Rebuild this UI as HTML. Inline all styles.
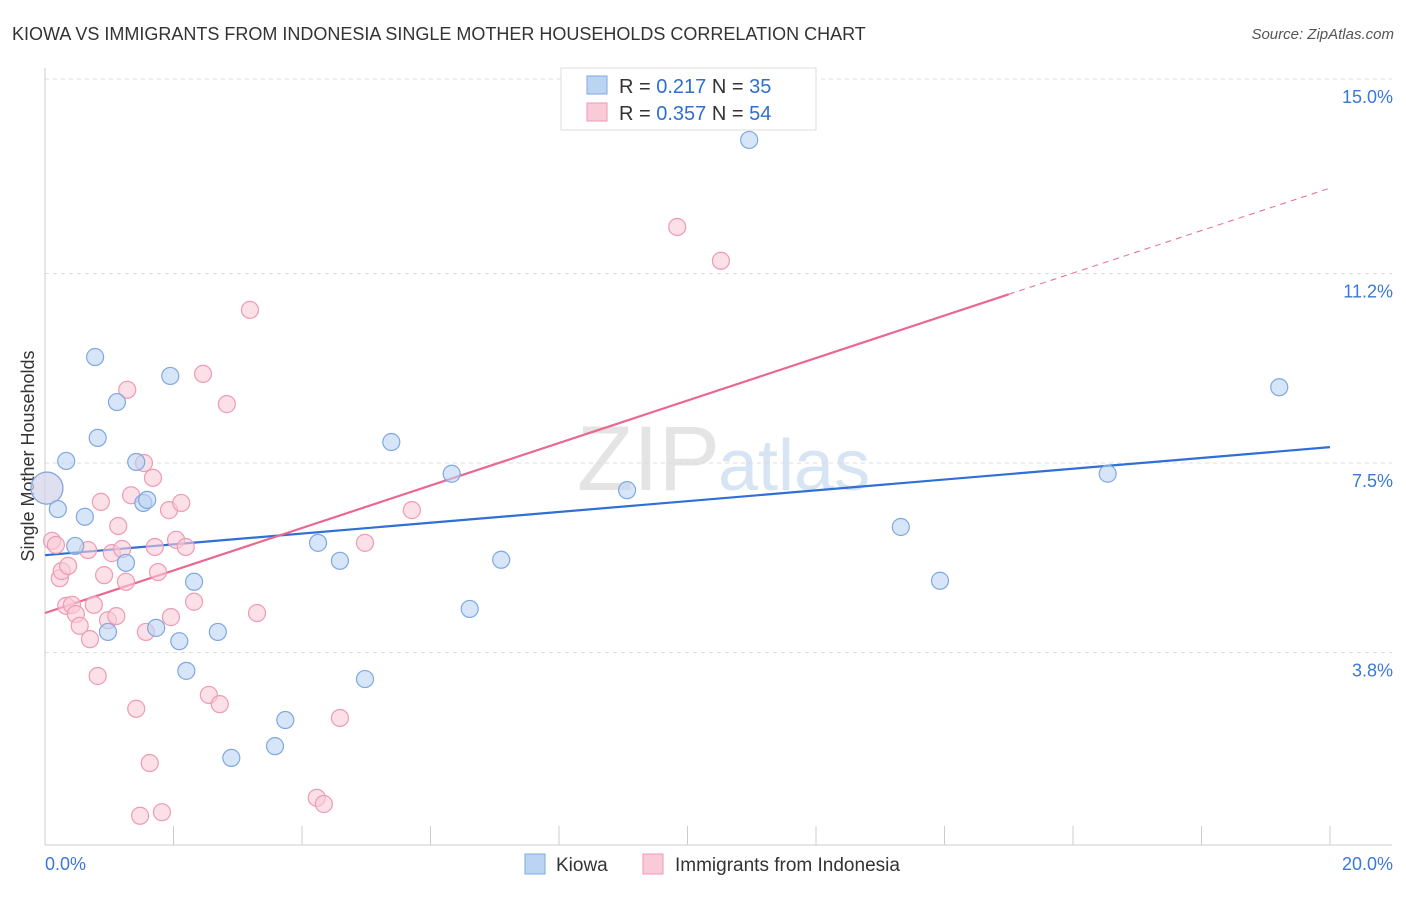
<!DOCTYPE html>
<html><head><meta charset="utf-8">
<style>
body{margin:0;background:#fff;font-family:"Liberation Sans",sans-serif;}
svg text{font-family:"Liberation Sans",sans-serif;}
</style></head><body>
<svg id="chart" width="1406" height="892" xmlns="http://www.w3.org/2000/svg">
<text x="12" y="40" font-size="18" fill="#333">KIOWA VS IMMIGRANTS FROM INDONESIA SINGLE MOTHER HOUSEHOLDS CORRELATION CHART</text>
<text x="1394" y="39" font-size="15" fill="#555" text-anchor="end" font-style="italic">Source: ZipAtlas.com</text>
<text x="720" y="490" font-size="92" fill="#e4e4e4" text-anchor="end" font-family="Liberation Serif">ZIP</text>
<text x="718" y="490" font-size="72" fill="#d6e4f3">atlas</text>
<g id="grid"></g>
<g id="axes"></g>
<text transform="translate(34,456) rotate(-90)" font-size="18" fill="#333" text-anchor="middle">Single Mother Households</text>
<g id="lines"></g>
<g id="points"></g>
<g>
<rect x="561" y="68" width="255" height="62" fill="#fff" stroke="#ddd"/>
<rect x="587" y="76" width="20" height="18" fill="#bcd4f4" stroke="#7fa8e0"/>
<text x="619" y="93" font-size="20" fill="#333">R = <tspan fill="#2f6fcf">0.217</tspan>   N = <tspan fill="#2f6fcf">35</tspan></text>
<rect x="587" y="103" width="20" height="18" fill="#f9cbd8" stroke="#ef9ab3"/>
<text x="619" y="120" font-size="20" fill="#333">R = <tspan fill="#2f6fcf">0.357</tspan>   N = <tspan fill="#2f6fcf">54</tspan></text>
</g>
<g>
<rect x="525" y="854" width="20" height="20" fill="#bcd4f4" stroke="#7fa8e0"/>
<text x="556" y="871" font-size="19" fill="#333">Kiowa</text>
<rect x="643" y="854" width="20" height="20" fill="#f9cbd8" stroke="#ef9ab3"/>
<text x="675" y="871" font-size="19" fill="#333">Immigrants from Indonesia</text>
</g>
</svg>
<script>
const kiowaX=[0.03,0.20,0.33,0.47,0.62,0.78,0.82,0.98,1.12,1.26,1.42,1.53,1.59,1.73,1.95,2.09,2.20,2.32,2.69,2.90,3.58,3.74,4.25,4.59,4.98,5.39,6.33,6.61,7.10,9.06,10.96,13.32,13.93,16.54,19.21];
const kiowaY=[7.01,6.60,7.54,5.88,6.45,9.57,7.99,4.20,8.69,5.55,7.52,6.72,6.78,4.28,9.20,4.02,3.44,5.18,4.20,1.74,1.97,2.48,5.94,5.59,3.28,7.91,7.29,4.65,5.61,6.97,13.81,6.25,5.20,7.29,8.98];
const indoX=[0.03,0.11,0.17,0.23,0.26,0.36,0.33,0.42,0.48,0.54,0.67,0.70,0.76,0.82,0.87,0.92,0.98,1.04,1.11,1.14,1.20,1.26,1.28,1.34,1.42,1.48,1.54,1.57,1.63,1.68,1.71,1.76,1.82,1.93,1.96,2.04,2.12,2.19,2.32,2.46,2.55,2.72,2.83,3.19,3.30,4.23,4.34,4.59,4.98,5.71,9.84,10.52];
const indoY=[7.01,5.98,5.90,5.25,5.39,5.49,4.71,4.73,4.55,4.32,5.80,4.06,4.73,3.34,6.74,5.31,4.43,5.74,4.51,6.27,5.82,5.18,8.93,6.87,2.70,0.61,7.50,4.20,1.64,7.21,5.86,5.37,0.68,6.58,4.49,6.00,6.72,5.86,4.79,9.24,2.97,2.79,8.65,10.49,4.57,0.96,0.84,2.52,5.94,6.58,12.11,11.45];
const kiowaTrend=[5.70,7.81];
const indoTrend=[4.57,12.87];
const indoSolidEnd=15.0;
const yTicks=[15.0,11.2,7.5,3.8];
const yTickLabels=["15.0%","11.2%","7.5%","3.8%"];
const xEnds=["0.0%","20.0%"];
const NS="http://www.w3.org/2000/svg";
const X=v=>45+v*64.25;
const Y=v=>79+(15-v)*51.2;
function mk(tag,attrs,parent){const e=document.createElementNS(NS,tag);for(const k in attrs)e.setAttribute(k,attrs[k]);document.getElementById(parent).appendChild(e);return e;}
yTicks.forEach((t,i)=>{
 const l=mk('line',{x1:45,x2:1392,y1:Y(t),y2:Y(t),stroke:'#ddd','stroke-dasharray':'4,4'},'grid');
 
 
 const tx=mk('text',{x:1393,y:Y(t)+24,'font-size':18,fill:'#3b78d8','text-anchor':'end'},'grid');
 tx.textContent=yTickLabels[i];
 
 
});
const ax=mk('line',{x1:45,x2:45,y1:68,y2:845,stroke:'#ccc'},'axes');


const bx=mk('line',{x1:45,x2:1392,y1:845,y2:845,stroke:'#ccc'},'axes');


for(let i=0;i<=10;i++){
 const t=mk('line',{x1:X(i*2),x2:X(i*2),y1:826,y2:845,stroke:'#ccc'},'axes');
 
 
}
[[0,'start'],[20,'end']].forEach((p,i)=>{
 const t=mk('text',{x:i?1393:45,y:870,'font-size':18,fill:'#3b78d8','text-anchor':p[1]},'axes');
 t.textContent=xEnds[i];
 
 
});
function pts(xs,ys,fill,stroke,name){
 xs.forEach((x,i)=>{
  const big=i===0;
  const c=mk('circle',{cx:X(x),cy:Y(ys[i]),r:big?16:8.5,fill:fill,'fill-opacity':big?0.45:0.6,stroke:stroke,'stroke-width':1.2},'points');
  
  
 });
}
pts(indoX,indoY,'#f9cbd8','#ef9ab3','indonesia-point');
pts(kiowaX,kiowaY,'#bcd4f4','#7fa8e0','kiowa-point');
const bl=mk('line',{x1:X(0),y1:Y(kiowaTrend[0]),x2:X(20),y2:Y(kiowaTrend[1]),stroke:'#2f6fd6','stroke-width':2.2},'lines');


const pf=v=>indoTrend[0]+(indoTrend[1]-indoTrend[0])*v/20;
const pl=mk('line',{x1:X(0),y1:Y(pf(0)),x2:X(indoSolidEnd),y2:Y(pf(indoSolidEnd)),stroke:'#e8688f','stroke-width':2.2},'lines');


const pd=mk('line',{x1:X(indoSolidEnd),y1:Y(pf(indoSolidEnd)),x2:X(20),y2:Y(pf(20)),stroke:'#e8688f','stroke-width':1,'stroke-dasharray':'6,5'},'lines');


</script>
</body></html>
